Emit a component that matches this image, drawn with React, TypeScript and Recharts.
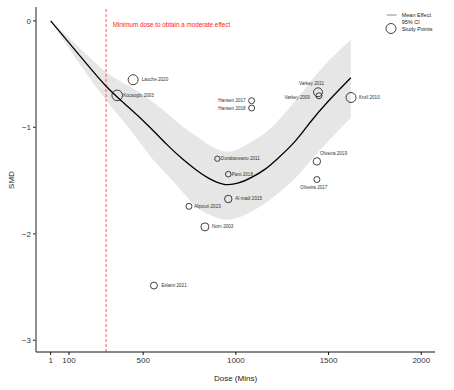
import {
  ComposedChart, Line, Area, Scatter, XAxis, YAxis, ZAxis, ReferenceLine,
} from "recharts";

// fitted dose-response curve
const doses = [1, 150, 298, 420, 536, 630, 714, 790, 850, 930, 1010, 1090, 1160, 1221, 1313, 1399, 1491, 1620];
const meanEffect = [0, -0.31, -0.61, -0.81, -1.0, -1.165, -1.3, -1.405, -1.475, -1.533, -1.525, -1.465, -1.39, -1.3, -1.144, -0.957, -0.769, -0.535];
const ciLower = [0, -0.39, -0.741, -1.0, -1.266, -1.445, -1.613, -1.75, -1.815, -1.865, -1.85, -1.785, -1.71, -1.63, -1.49, -1.32, -1.144, -0.91];
const ciUpper = [0, -0.24, -0.478, -0.61, -0.741, -0.87, -0.994, -1.085, -1.16, -1.225, -1.205, -1.13, -1.05, -0.95, -0.769, -0.58, -0.394, -0.178];

// individual studies
const studyNames = [
  "Lauche 2020", "Kocaoglu 2003", "Hansen 2017", "Hansen 2018", "Varkey 2011", "Varkey 2009",
  "Kroll 2010", "Durabaneanu 2011", "Paro 2018", "Oliveira 2019", "Oliveira 2017", "Al madi  2015",
  "Alipouri 2023", "Norn 2003", "Eslami 2021",
];
const studyDose = [446, 360, 1085, 1085, 1443, 1448, 1621, 900, 959, 1437, 1437, 959, 747, 833, 558];
const studySmd = [-0.553, -0.7, -0.75, -0.819, -0.671, -0.704, -0.72, -1.295, -1.44, -1.32, -1.49, -1.673, -1.742, -1.935, -2.486];
const studyWeight = [25, 28, 9, 9, 20, 9, 25, 7, 8, 14, 9, 14, 9, 16, 12];

const xTicks = [1, 100, 500, 1000, 1500, 2000];
const yTicks = [0, -1, -2, -3];
const minDose = 300;

const curve = doses.map((d, i) => ({ dose: d, mean: meanEffect[i], ci: [ciLower[i], ciUpper[i]] }));
const studies = studyNames.map((name, i) => ({ name, dose: studyDose[i], smd: studySmd[i], weight: studyWeight[i] }));

// where each study label sits relative to its circle
const labelPos: Record<string, { dx: number; dy: number; anchor: string }> = {
  "Lauche 2020": { dx: 8.5, dy: 0, anchor: "start" },
  "Kocaoglu 2003": { dx: 6, dy: 0, anchor: "start" },
  "Hansen 2017": { dx: -6, dy: 0, anchor: "end" },
  "Hansen 2018": { dx: -6, dy: 0, anchor: "end" },
  "Varkey 2011": { dx: -6.5, dy: -8.5, anchor: "middle" },
  "Varkey 2009": { dx: -9, dy: 1.5, anchor: "end" },
  "Kroll 2010": { dx: 8, dy: 0, anchor: "start" },
  "Durabaneanu 2011": { dx: 3.5, dy: 0, anchor: "start" },
  "Paro 2018": { dx: 3.5, dy: 0, anchor: "start" },
  "Oliveira 2019": { dx: 3, dy: -7.5, anchor: "start" },
  "Oliveira 2017": { dx: -3, dy: 7.5, anchor: "middle" },
  "Al madi  2015": { dx: 7, dy: 0, anchor: "start" },
  "Alipouri 2023": { dx: 5, dy: 0, anchor: "start" },
  "Norn 2003": { dx: 7, dy: 0, anchor: "start" },
  "Eslami 2021": { dx: 7.5, dy: 0, anchor: "start" },
};

const StudyPoint = (props: any) => {
  const { cx, cy, width, payload } = props;
  const r = width / 2;
  const p = labelPos[payload.name];
  return (
    <g>
      <circle cx={cx} cy={cy} r={r} fill="none" stroke="#111" strokeWidth={0.8} />
      <text x={cx + p.dx} y={cy + p.dy} textAnchor={p.anchor} dominantBaseline="central"
        fontSize={4.6} fill="#333">{payload.name}</text>
    </g>
  );
};

const minus = (v: number) => String(v).replace("-", "\u2212");

export default function App() {
  return (
    <div style={{ position: "absolute", left: 0, top: 0, width: 454, height: 390, background: "#fff",
      fontFamily: "'Liberation Sans', Arial, sans-serif" }}>
      <ComposedChart width={454} height={390} data={curve}
        margin={{ top: 7, right: 19, bottom: 8, left: 0 }}>
        <XAxis type="number" dataKey="dose" domain={[-78, 2074]} ticks={xTicks} allowDataOverflow
          stroke="#111" tickSize={3} tickMargin={2} tick={{ fontSize: 8, fill: "#333" }} height={30}
          label={{ value: "Dose (Mins)", position: "insideBottom", offset: 1, fontSize: 8, fill: "#222" }} />
        <YAxis type="number" domain={[-3.11, 0.13]} ticks={yTicks} allowDataOverflow width={36}
          stroke="#555" strokeWidth={1.3} tickSize={3} tickMargin={2} tickFormatter={minus}
          tick={{ fontSize: 8, fill: "#333" }} />
        <ZAxis type="number" dataKey="weight" domain={[0, 30]} range={[0, 30 * Math.PI]} />
        <Area type="natural" dataKey="ci" stroke="none" fill="#e6e6e6" fillOpacity={1}
          isAnimationActive={false} />
        <ReferenceLine x={minDose} stroke="#ff5a5a" strokeWidth={1} strokeDasharray="3 2"
          label={(p: any) => (
            <text x={p.viewBox.x + 6.6} y={24.3} dominantBaseline="central" fontSize={6.3}
              fill="#ff2020">Minimum dose to obtain a moderate effect</text>
          )} />
        <Line type="natural" dataKey="mean" stroke="#000" strokeWidth={1.3} dot={false}
          isAnimationActive={false} />
        <Scatter data={studies} dataKey="smd" shape={StudyPoint} isAnimationActive={false} />
        <g fontSize={5.5} fill="#222">
          <line x1={386.7} x2={396.7} y1={15} y2={15} stroke="#888" strokeWidth={1} />
          <text x={401.7} y={15} dominantBaseline="central">Mean Effect</text>
          <text x={401.7} y={21.8} dominantBaseline="central">95% CI</text>
          <circle cx={391} cy={28.5} r={5} fill="none" stroke="#111" strokeWidth={0.8} />
          <text x={401.7} y={28.7} dominantBaseline="central">Study Points</text>
          <text transform="translate(11,180) rotate(-90)" textAnchor="middle" dominantBaseline="central"
            fontSize={8}>SMD</text>
        </g>
      </ComposedChart>
    </div>
  );
}
